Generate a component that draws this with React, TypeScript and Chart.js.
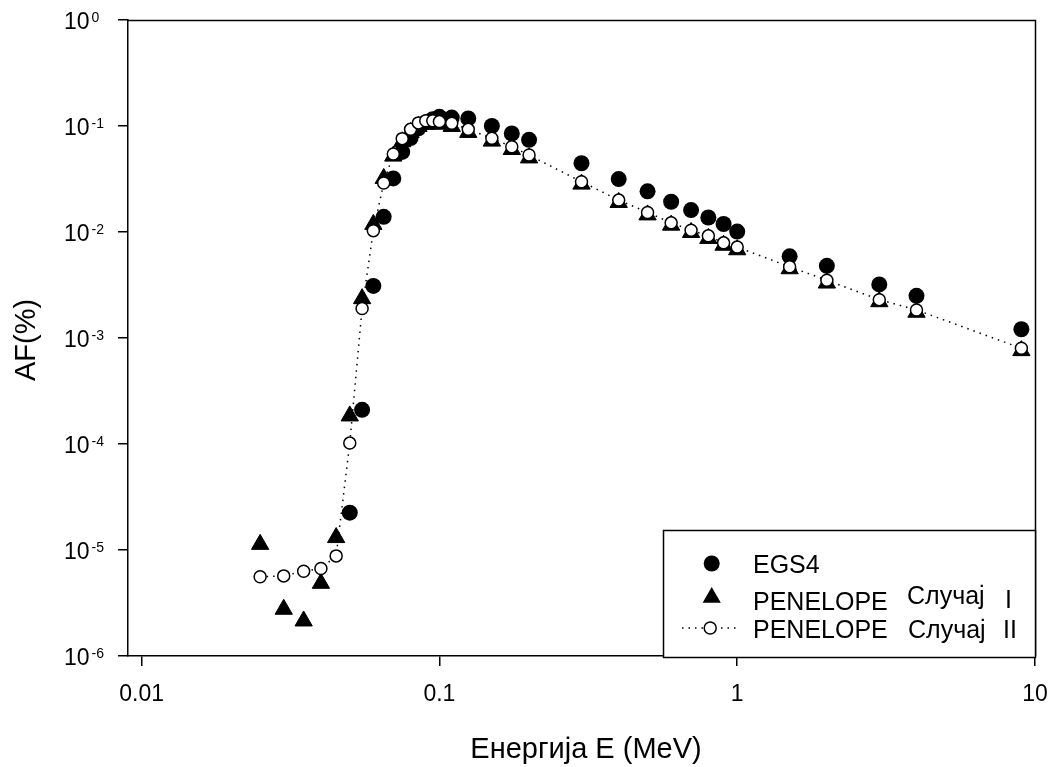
import React, { useEffect, useRef } from "react";
import { Chart, registerables } from "chart.js";

Chart.register(...registerables);

// ---- data ----
const egs4Energy = [0.05, 0.055, 0.06, 0.065, 0.07, 0.075, 0.08, 0.085, 0.09, 0.095, 0.1, 0.11, 0.125, 0.15, 0.175, 0.2, 0.3, 0.4, 0.5, 0.6, 0.7, 0.8, 0.9, 1.0, 1.5, 2, 3, 4, 9];
const egs4AF = [2.25e-5, 2.1e-4, 3.1e-3, 0.0139, 0.032, 0.057, 0.077, 0.095, 0.108, 0.116, 0.122, 0.12, 0.118, 0.1, 0.085, 0.074, 0.0445, 0.0316, 0.0242, 0.0193, 0.0161, 0.0137, 0.0119, 0.0101, 0.0059, 0.0048, 0.0032, 0.0025, 0.00121];

const penEnergy = [0.025, 0.03, 0.035, 0.04, 0.045, 0.05, 0.055, 0.06, 0.065, 0.07, 0.075, 0.08, 0.085, 0.09, 0.095, 0.1, 0.11, 0.125, 0.15, 0.175, 0.2, 0.3, 0.4, 0.5, 0.6, 0.7, 0.8, 0.9, 1.0, 1.5, 2, 3, 4, 9];
const penCase1AF = [1.13e-5, 2.76e-6, 2.14e-6, 4.85e-6, 1.31e-5, 1.84e-4, 2.35e-3, 0.0118, 0.032, 0.052, 0.071, 0.087, 0.099, 0.104, 0.105, 0.104, 0.099, 0.087, 0.072, 0.06, 0.05, 0.0283, 0.019, 0.0145, 0.0116, 0.0099, 0.0087, 0.0075, 0.0068, 0.0045, 0.0033, 0.0022, 0.00175, 0.00076];
const penCase2AF = [5.6e-6, 5.7e-6, 6.3e-6, 6.7e-6, 8.8e-6, 1.02e-4, 1.9e-3, 0.0103, 0.029, 0.0544, 0.076, 0.093, 0.107, 0.112, 0.112, 0.11, 0.106, 0.093, 0.0766, 0.0638, 0.0532, 0.0298, 0.02, 0.0153, 0.0122, 0.0104, 0.0092, 0.0079, 0.0072, 0.0047, 0.0035, 0.0023, 0.00184, 0.0008];

const xTickValues = [0.01, 0.1, 1, 10];
const xTickLabels = ["0.01", "0.1", "1", "10"];
const yTickExponents = [0, -1, -2, -3, -4, -5, -6];

const xTitle = "Енергија E (MeV)";
const yTitle = "AF(%)";
const legendNames = ["EGS4", "PENELOPE", "PENELOPE"];
const legendCase = ["", "Случај", "Случај"];
const legendCaseNo = ["", "I", "II"];

const FONT = '"Liberation Sans", Arial, Helvetica, sans-serif';

function toPoints(xs: number[], ys: number[]) {
  return xs.map((x, i) => ({ x, y: ys[i] }));
}

const decorPlugin = {
  id: "decor",
  afterDraw(chart: any) {
    const ctx: CanvasRenderingContext2D = chart.ctx;
    const { left, right, top, bottom } = chart.chartArea;
    const xs = chart.scales.x;
    const ys = chart.scales.y;
    ctx.save();
    // top & right frame
    ctx.strokeStyle = "#000";
    ctx.lineWidth = 1.5;
    ctx.beginPath();
    ctx.moveTo(left, top + 0.5);
    ctx.lineTo(right + 0.5, top + 0.5);
    ctx.lineTo(right + 0.5, bottom);
    ctx.stroke();

    ctx.fillStyle = "#000";
    ctx.textAlign = "left";
    ctx.textBaseline = "alphabetic";
    // y tick labels 10^n
    yTickExponents.forEach((e) => {
      const py = ys.getPixelForValue(Math.pow(10, e));
      ctx.font = `23px ${FONT}`;
      ctx.fillText("10", 64, py + 8.5);
      const w = ctx.measureText("10").width;
      ctx.font = `14px ${FONT}`;
      ctx.fillText(e === 0 ? "0" : "-" + String(-e), 64 + w + 2, py + 2);
    });
    // x tick labels
    ctx.font = `23px ${FONT}`;
    ctx.textAlign = "center";
    xTickValues.forEach((v, i) => {
      const px = xs.getPixelForValue(v);
      ctx.fillText(xTickLabels[i], px, 700.5);
    });
    // axis titles
    ctx.font = `29px ${FONT}`;
    ctx.fillText(xTitle, 586, 758);
    ctx.save();
    ctx.translate(35, 340);
    ctx.rotate(-Math.PI / 2);
    ctx.textAlign = "center";
    ctx.fillText(yTitle, 0, 0);
    ctx.restore();

    // legend
    const lx = 663, ly = 530, lw = 1035 - 663, lh = 657 - 530;
    ctx.fillStyle = "#fff";
    ctx.fillRect(lx, ly, lw, lh);
    ctx.strokeStyle = "#000";
    ctx.lineWidth = 1.5;
    ctx.strokeRect(lx + 0.5, ly + 0.5, lw, lh);

    const mx = 711.7;
    // row 1: filled circle
    ctx.fillStyle = "#000";
    ctx.beginPath();
    ctx.arc(mx, 563.5, 8, 0, Math.PI * 2);
    ctx.fill();
    // row 2: triangle
    const ty = 597.5, tr = 10.5;
    ctx.beginPath();
    ctx.moveTo(mx, ty - tr);
    ctx.lineTo(mx + Math.sin((2 * Math.PI) / 3) * tr, ty + tr / 2);
    ctx.lineTo(mx - Math.sin((2 * Math.PI) / 3) * tr, ty + tr / 2);
    ctx.closePath();
    ctx.fill();
    // row 3: dotted line + open circle
    ctx.lineWidth = 1.5;
    ctx.setLineDash([1.5, 5]);
    ctx.beginPath();
    ctx.moveTo(682, 628);
    ctx.lineTo(740, 628);
    ctx.stroke();
    ctx.setLineDash([]);
    ctx.fillStyle = "#fff";
    ctx.beginPath();
    ctx.arc(mx - 1.5, 628, 6, 0, Math.PI * 2);
    ctx.fill();
    ctx.stroke();

    ctx.fillStyle = "#000";
    ctx.textAlign = "left";
    ctx.font = `25px ${FONT}`;
    ctx.fillText(legendNames[0], 753, 573.3);
    ctx.fillText(legendNames[1], 753, 610);
    ctx.fillText(legendCase[1], 907, 603.5);
    ctx.fillText(legendCaseNo[1], 1005, 608);
    ctx.fillText(legendNames[2], 753, 638.3);
    ctx.fillText(legendCase[2], 908, 638.3);
    ctx.fillText(legendCaseNo[2], 1003, 638.3);
    ctx.restore();
  },
};

export default function App() {
  const ref = useRef<HTMLCanvasElement>(null);
  useEffect(() => {
    document.body.style.margin = "0";
    const canvas = ref.current!;
    const chart = new Chart(canvas, {
      type: "scatter",
      data: {
        datasets: [
          {
            label: "EGS4",
            data: toPoints(egs4Energy, egs4AF),
            pointStyle: "circle",
            pointRadius: 8,
            pointBackgroundColor: "#000",
            pointBorderColor: "#000",
            pointBorderWidth: 0,
            showLine: false,
            order: 3,
          },
          {
            label: "PENELOPE Случај I",
            data: toPoints(penEnergy, penCase1AF),
            pointStyle: "triangle",
            pointRadius: 10,
            pointBackgroundColor: "#000",
            pointBorderColor: "#000",
            pointBorderWidth: 1,
            showLine: false,
            order: 2,
          },
          {
            label: "PENELOPE Случај II",
            data: toPoints(penEnergy, penCase2AF),
            pointStyle: "circle",
            pointRadius: 6,
            pointBackgroundColor: "#fff",
            pointBorderColor: "#000",
            pointBorderWidth: 1.5,
            showLine: true,
            borderColor: "#000",
            borderWidth: 1.5,
            borderDash: [1.5, 5],
            tension: 0,
            order: 1,
          },
        ],
      },
      options: {
        responsive: false,
        animation: false,
        devicePixelRatio: 1,
        layout: { padding: { left: 0, top: 20, right: 21, bottom: 0 } },
        plugins: { legend: { display: false }, tooltip: { enabled: false } },
        scales: {
          x: {
            type: "logarithmic",
            min: 0.009,
            max: 10,
            afterBuildTicks: (s: any) => {
              s.ticks = xTickValues.map((v) => ({ value: v }));
            },
            afterFit: (s: any) => {
              s.height = 111;
            },
            ticks: { display: false },
            grid: { display: true, drawOnChartArea: false, drawTicks: true, tickLength: 10, color: "#000", lineWidth: 1.5 },
            border: { display: true, color: "#000", width: 1.5 },
          },
          y: {
            type: "logarithmic",
            min: 1e-6,
            max: 1,
            afterBuildTicks: (s: any) => {
              s.ticks = yTickExponents.map((e) => ({ value: Math.pow(10, e) }));
            },
            afterFit: (s: any) => {
              s.width = 128;
            },
            ticks: { display: false },
            grid: { display: true, drawOnChartArea: false, drawTicks: true, tickLength: 10, color: "#000", lineWidth: 1.5 },
            border: { display: true, color: "#000", width: 1.5 },
          },
        },
      },
      plugins: [decorPlugin],
    } as any);
    return () => chart.destroy();
  }, []);
  return (
    <div style={{ width: 1056, height: 767, background: "#fff" }}>
      <canvas ref={ref} width={1056} height={767} style={{ display: "block" }} />
    </div>
  );
}
